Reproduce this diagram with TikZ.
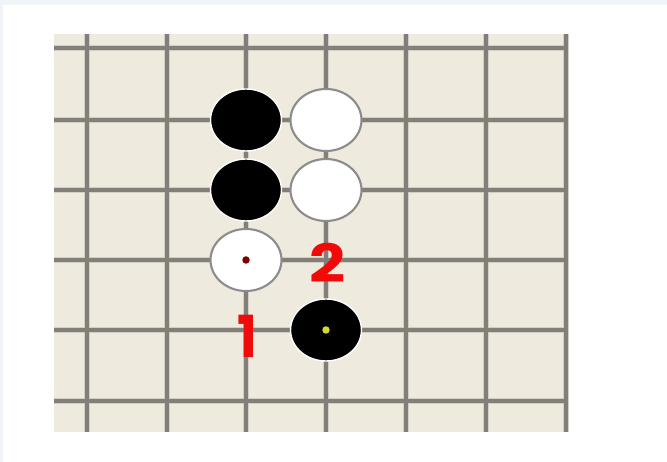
\documentclass[tikz,border=0pt]{standalone}
\usepackage{fontspec}
\setsansfont{Poppins}
\usetikzlibrary{shapes.geometric}
\definecolor{boardbg}{RGB}{238,234,222}
\definecolor{griddark}{RGB}{130,126,120}
\definecolor{gridlight}{RGB}{210,206,199}
\definecolor{stoneedge}{RGB}{140,140,140}
\definecolor{framebg}{RGB}{240,244,248}
\definecolor{markred}{RGB}{128,0,0}
\definecolor{markyellow}{RGB}{215,215,45}
\definecolor{numred}{RGB}{240,10,10}
\tikzstyle{gridline} = [draw=griddark, line width=1.9pt, preaction={draw=gridlight, line width=3.6pt}]
\tikzstyle{blackstone} = [ellipse, minimum width=1.42cm, minimum height=1.24cm, inner sep=0pt, fill=black, draw=white, line width=0.8pt]
\tikzstyle{whitestone} = [ellipse, minimum width=1.42cm, minimum height=1.24cm, inner sep=0pt, fill=white, draw=stoneedge, line width=1.2pt]
\tikzstyle{dot} = [circle, minimum size=0.15cm, inner sep=0pt]
\tikzstyle{movenum} = [text=numred, font=\sffamily\bfseries\fontsize{30}{30}\selectfont, inner sep=0pt]

\begin{document}
\begin{tikzpicture}[x=0.02cm, y=-0.02cm]
			\useasboundingbox (0,0) rectangle (667,462);
			\fill[white] (0,0) rectangle (667,462);
			\fill[framebg] (0,0) rectangle (667,5);
			\fill[framebg] (0,0) rectangle (3,462);
			
			% Papan
			\fill[boardbg] (54,34) rectangle (569,432);
			\draw[gridline]
				(87,34) -- (87,432) (167,34) -- (167,432) (246,34) -- (246,432)
				(326,34) -- (326,432) (406,34) -- (406,432) (486,34) -- (486,432)
				(566,34) -- (566,432)
				(54,48) -- (566,48) (54,120) -- (566,120) (54,190) -- (566,190)
				(54,260) -- (566,260) (54,330) -- (566,330) (54,401) -- (566,401);
			
			% Row 1
			\node (black1) [blackstone] at (246,120) {};
			\node (white1) [whitestone] at (326,120) {};
			
			% Row 2
			\node (black2) [blackstone] at (246,190) {};
			\node (white2) [whitestone] at (326,190) {};
			
			% Row 3
			\node (white3) [whitestone] at (246,260) {};
			\node (mark1) [dot, fill=markred] at (white3.center) {};
			\node (num2) [movenum, xscale=1.2] at (328,263) {2};
			
			% Row 4
			\node (num1) [movenum, yscale=1.1] at (247,336) {1};
			\node (black3) [blackstone] at (326,330) {};
			\node (mark2) [dot, fill=markyellow] at (black3.center) {};
			
		\end{tikzpicture}
\end{document}
